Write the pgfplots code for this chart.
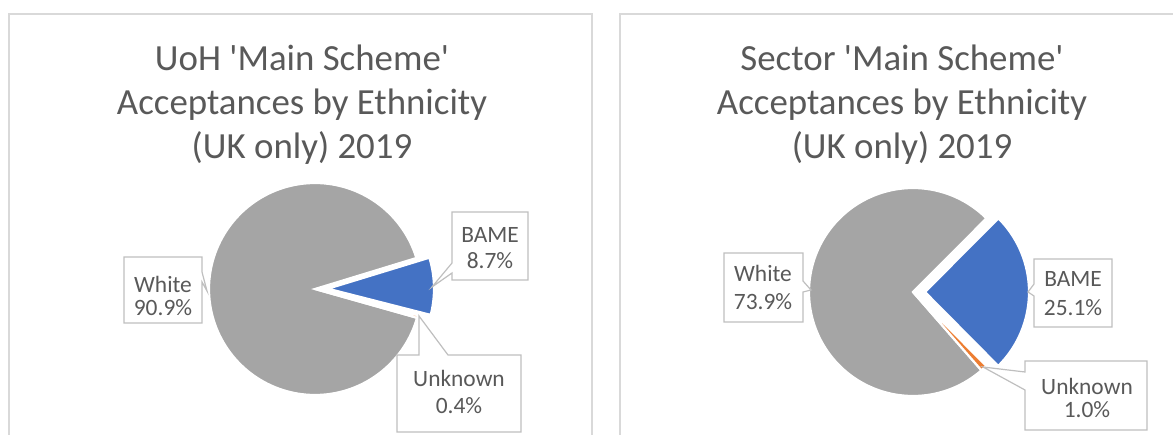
\documentclass[border=0pt]{standalone}
\usepackage{pgfplots}
\pgfplotsset{compat=1.18}
\usepackage{pgfplotstable}
\usepackage{fontspec}
\setmainfont{Carlito}
\definecolor{cgray}{HTML}{A5A5A5}
\definecolor{cblue}{HTML}{4472C4}
\definecolor{corange}{HTML}{ED7D31}
\definecolor{ctext}{HTML}{595959}
\definecolor{cframe}{HTML}{D9D9D9}
\definecolor{cbox}{HTML}{BFBFBF}

\pgfplotstableread{
label value
BAME 8.7
Unknown 0.4
White 90.9
}\uohdata
\pgfplotstableread{
label value
BAME 25.1
Unknown 1.0
White 73.9
}\sectordata

% #1 table, #2 cx, #3 cy (image coords, y down), #4 radius, #5 start angle of first slice, #6 explode
\newcommand{\piechart}[6]{%
  \pgfplotstablegetelem{0}{value}\of#1\pgfmathsetmacro{\vA}{\pgfplotsretval}%
  \pgfplotstablegetelem{1}{value}\of#1\pgfmathsetmacro{\vB}{\pgfplotsretval}%
  \pgfmathsetmacro{\aA}{#5-3.6*\vA}%
  \pgfmathsetmacro{\aB}{\aA-3.6*\vB}%
  \pgfmathsetmacro{\aC}{#5-360}%
  \pgfmathsetmacro{\aS}{#5}%
  \pgfmathsetmacro{\mA}{(#5+\aA)/2}%
  \pgfmathsetmacro{\ex}{#6*cos(\mA)}%
  \pgfmathsetmacro{\ey}{#6*sin(\mA)}%
  \begin{axis}[at={(#2bp,-#3bp)}, anchor=center, x=1bp, y=1bp,
    xmin=-140, xmax=140, ymin=-140, ymax=140, hide axis, clip=false]
    \addplot[fill=cgray, draw=white, line width=2.2bp, domain=\aC:\aB, samples=150]
      ({#4*cos(x)},{#4*sin(x)}) -- (axis cs:0,0) -- cycle;
    \addplot[fill=corange, draw=white, line width=2.2bp, domain=\aB:\aA, samples=10]
      ({#4*cos(x)},{#4*sin(x)}) -- (axis cs:0,0) -- cycle;
    \addplot[fill=cblue, draw=white, line width=2.2bp, domain=\aA:\aS, samples=60]
      ({\ex+#4*cos(x)},{\ey+#4*sin(x)}) -- (axis cs:\ex,\ey) -- cycle;
  \end{axis}%
}

\begin{document}
\begin{tikzpicture}[x=1bp, y=-1bp]
  \useasboundingbox (0,0) rectangle (1173,435);
  \clip (0,0) rectangle (1173,435);
  % panel frames
  \draw[cframe, line width=2bp] (9,445) -- (9,14) -- (592,14) -- (592,445);
  \draw[cframe, line width=2bp] (620,445) -- (620,14) -- (1185,14);

  % titles
  \begin{scope}[every node/.style={text=ctext, anchor=base, inner sep=0pt, font=\fontsize{37}{44}\selectfont}]
    \node at (302,71) {UoH \textquotesingle Main Scheme\textquotesingle};
    \node at (302,115) {Acceptances by Ethnicity};
    \node at (302,159) {(UK only) 2019};
    \node at (902,71) {Sector \textquotesingle Main Scheme\textquotesingle};
    \node at (902,115) {Acceptances by Ethnicity};
    \node at (902,159) {(UK only) 2019};
  \end{scope}

  % pies
  \piechart{\uohdata}{315}{289}{106}{17}{13}
  \piechart{\sectordata}{913}{292}{104}{45.1}{12}

  % data label callouts
  \begin{scope}[fill=white, draw=cbox, line width=1.2bp]
    % left chart
    \filldraw (124,257) -- (202,257) -- (202,272) -- (207,291) -- (202,282) -- (202,323) -- (124,323) -- cycle;
    \filldraw (452,212) -- (528,212) -- (528,280) -- (452,280) -- (452,273) -- (432,287) -- (452,263) -- cycle;
    \filldraw (397,355) -- (419,355) -- (419,316) -- (448,355) -- (521,355) -- (521,432) -- (397,432) -- cycle;
    % right chart
    \filldraw (724,253) -- (803,253) -- (803,281) -- (811,290) -- (803,292) -- (803,322) -- (724,322) -- cycle;
    \filldraw (1034,259) -- (1112,259) -- (1112,327) -- (1034,327) -- (1034,296) -- (1028,292) -- (1034,284) -- cycle;
    \filldraw (1025,361) -- (1147,361) -- (1147,430) -- (1025,430) -- (1025,390) -- (983,367) -- (1025,372) -- cycle;
  \end{scope}

  \begin{scope}[every node/.style={text=ctext, anchor=base, inner sep=0pt, font=\fontsize{23.5}{27}\selectfont}]
    \node at (163,293) {White};
    \node at (163,316) {90.9\%};
    \node at (490,243) {BAME};
    \node at (490,269) {8.7\%};
    \node at (459,387) {Unknown};
    \node at (459,414) {0.4\%};
    \node at (763,282) {White};
    \node at (763,310) {73.9\%};
    \node at (1073,287) {BAME};
    \node at (1073,316) {25.1\%};
    \node at (1087,395) {Unknown};
    \node at (1087,418) {1.0\%};
  \end{scope}
\end{tikzpicture}
\end{document}
